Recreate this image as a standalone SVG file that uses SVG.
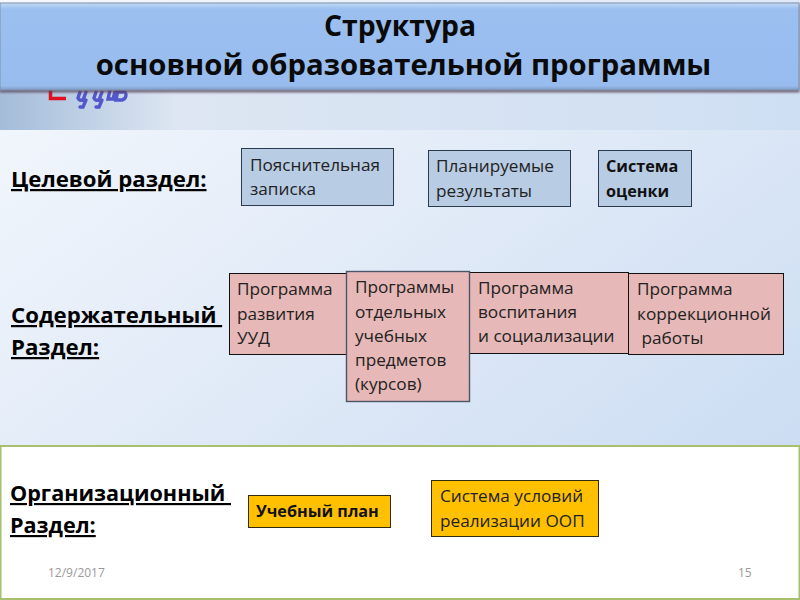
<svg xmlns="http://www.w3.org/2000/svg" width="800" height="600" viewBox="0 0 800 600">
<defs>
<linearGradient id="bg" x1="0" y1="0" x2="1" y2="1"><stop offset="0" stop-color="#f6f9fd"/><stop offset="0.5" stop-color="#dfe9f7"/><stop offset="1" stop-color="#c5d9f1"/></linearGradient>
<linearGradient id="band" x1="0" y1="0" x2="1" y2="0"><stop offset="0" stop-color="#a3bcd9"/><stop offset="0.22" stop-color="#dde6f2"/><stop offset="1" stop-color="#cfdff3"/></linearGradient>
<linearGradient id="title" x1="0" y1="0" x2="0" y2="1"><stop offset="0" stop-color="#c3dbf7"/><stop offset="0.07" stop-color="#9bbfef"/><stop offset="0.95" stop-color="#98bcee"/><stop offset="1" stop-color="#7f9cc4"/></linearGradient>
<filter id="sh" x="-5%" y="-5%" width="110%" height="115%"><feDropShadow dx="0" dy="2" stdDeviation="1.2" flood-color="#5a3a50" flood-opacity="0.75"/></filter>
</defs>
<style>
text{font-family:"Open Sans","Noto Sans","Liberation Sans",sans-serif;fill:#222;white-space:pre}
.h{font-weight:700;font-size:22.2px;fill:#000;text-decoration:underline}
.t{font-size:17.2px}
.b{font-size:16.2px;font-weight:700;fill:#111}
.blue{fill:#b8cce4;stroke:#2c3a4e;stroke-width:1}
.pink{fill:#e6b8b7;stroke:#111;stroke-width:1}
.gold{fill:#ffc000;stroke:#332a10;stroke-width:1}
.foot{font-size:12px;fill:#999}
</style>
<rect width="800" height="600" fill="url(#bg)"/>
<rect y="90" width="800" height="40" fill="url(#band)"/>
<path id="logo-box" d="M50.500 86V98.500H66" fill="none" stroke="#e0101f" stroke-width="3.500"/>
<g id="logo-mark" fill="none" stroke="#5257cc" stroke-width="3.400" stroke-linecap="round"><path d="M80 92l-2 6q1 3 5 2l3-8M86 100l-3 7h-3M96 92l-2 6q1 3 5 2l3-8M102 100l-3 7h-3M110 90l-2 9h5l2-7M118 90l-2 10h6q4-1 4-5t-4-3h-4"/></g>
<rect x="0.500" y="446" width="799" height="153" fill="#fff" stroke="#a6c06e" stroke-width="2"/>
<rect id="title-bar" x="0" y="3" width="799" height="87" fill="url(#title)" stroke="#7f8fa8" filter="url(#sh)"/>
<g id="title" font-weight="700" text-anchor="middle"><text x="400" y="36" font-size="28.300" style="fill:#0a0a0a">Структура</text><text x="403.500" y="75" font-size="29.300" style="fill:#0a0a0a">основной образовательной программы</text></g>
<g id="section-1"><text class="h" x="11" y="187">Целевой раздел:</text></g>
<g id="section-2"><text class="h" x="11" y="323">Содержательный </text><text class="h" x="11" y="355">Раздел:</text></g>
<g id="section-3"><text class="h" x="10" y="501" style="font-size:21.600px">Организационный </text><text class="h" x="10" y="533" style="font-size:21.600px">Раздел:</text></g>
<g id="n1"><rect class="blue" x="241.500" y="148.500" width="152" height="57"/><text class="t" x="250" y="171">Пояснительная</text><text class="t" x="250" y="195">записка</text></g>
<g id="n2"><rect class="blue" x="428.500" y="150.500" width="142" height="56"/><text class="t" x="436" y="172">Планируемые</text><text class="t" x="436" y="197">результаты</text></g>
<g id="n3"><rect class="blue" x="598.500" y="150.500" width="93" height="56"/><text class="b" x="606" y="172">Система</text><text class="b" x="606" y="197">оценки</text></g>
<g id="n4"><rect class="pink" x="229.500" y="273.500" width="122" height="81"/><text class="t" x="237" y="295">Программа</text><text class="t" x="237" y="320">развития</text><text class="t" x="237" y="344">УУД</text></g>
<g id="n6"><rect class="pink" x="469.500" y="272.500" width="159" height="81"/><text class="t" x="478" y="294">Программа</text><text class="t" x="478" y="318">воспитания</text><text class="t" x="478" y="342">и социализации</text></g>
<g id="n5"><rect class="pink" x="346.500" y="271.500" width="123" height="130" style="stroke:#4a5568;stroke-width:1.400"/><text class="t" x="355" y="293">Программы</text><text class="t" x="355" y="318">отдельных</text><text class="t" x="355" y="342">учебных</text><text class="t" x="355" y="366">предметов</text><text class="t" x="355" y="390">(курсов)</text></g>
<g id="n7"><rect class="pink" x="628.500" y="273.500" width="155" height="81"/><text class="t" x="637" y="295">Программа</text><text class="t" x="637" y="320">коррекционной</text><text class="t" x="637" y="344"> работы</text></g>
<g id="n8"><rect class="gold" x="248.500" y="495.500" width="142" height="32"/><text class="b" x="256" y="517">Учебный план</text></g>
<g id="n9"><rect class="gold" x="431.500" y="480.500" width="167" height="56"/><text class="t" x="440" y="502">Система условий</text><text class="t" x="440" y="527">реализации ООП</text></g>
<text class="foot" x="48" y="577">12/9/2017</text>
<text class="foot" x="738" y="577">15</text>
<g id="connectors"></g>
</svg>
